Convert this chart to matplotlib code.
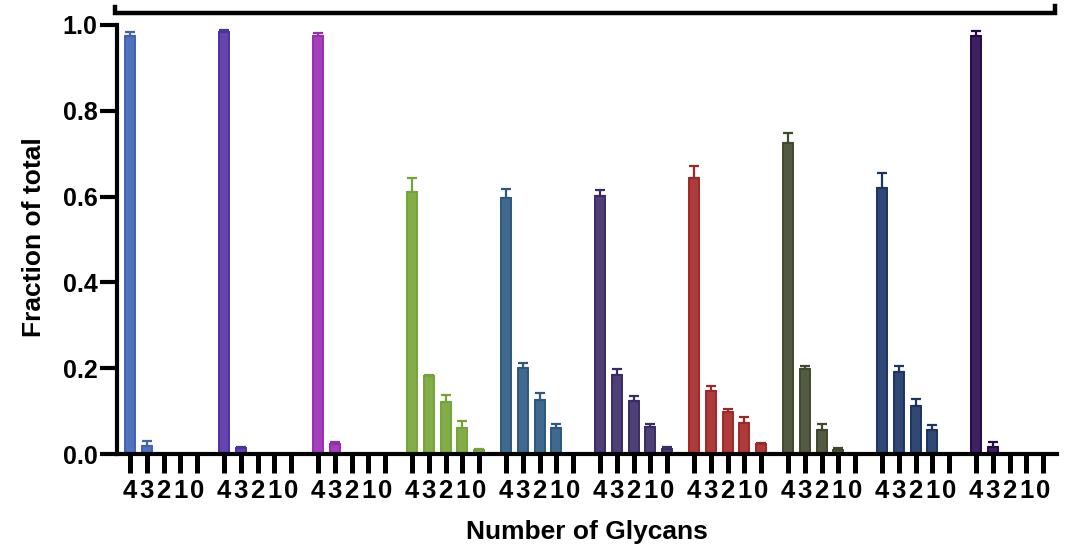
import numpy as np
import matplotlib
matplotlib.use("Agg")
import matplotlib.pyplot as plt
from matplotlib.lines import Line2D
from matplotlib.colors import to_rgb

plt.rcParams["font.family"] = ["Liberation Sans", "DejaVu Sans"]
plt.rcParams["font.weight"] = "bold"

# ------------------------------------------------------------------ data
# each group: fraction of total with 4,3,2,1,0 glycans (left -> right)
GLYCANS = ["4", "3", "2", "1", "0"]

VALUES = [
    [0.974, 0.019, 0.0, 0.0, 0.0],
    [0.983, 0.013, 0.0, 0.0, 0.0],
    [0.975, 0.023, 0.0, 0.0, 0.0],
    [0.611, 0.182, 0.122, 0.061, 0.010],
    [0.596, 0.200, 0.127, 0.060, 0.002],
    [0.602, 0.183, 0.124, 0.064, 0.012],
    [0.644, 0.147, 0.099, 0.073, 0.023],
    [0.724, 0.197, 0.057, 0.009, 0.0],
    [0.621, 0.192, 0.112, 0.057, 0.002],
    [0.975, 0.017, 0.002, 0.0, 0.0],
]

ERRORS = [
    [0.010, 0.011, 0.0, 0.0, 0.0],
    [0.005, 0.004, 0.0, 0.0, 0.0],
    [0.007, 0.004, 0.0, 0.0, 0.0],
    [0.032, 0.003, 0.016, 0.016, 0.002],
    [0.021, 0.012, 0.016, 0.009, 0.0],
    [0.013, 0.015, 0.011, 0.007, 0.005],
    [0.027, 0.011, 0.007, 0.013, 0.002],
    [0.024, 0.009, 0.013, 0.006, 0.0],
    [0.035, 0.012, 0.016, 0.011, 0.0],
    [0.010, 0.010, 0.0, 0.0, 0.0],
]

COLORS = ["#4062b4", "#5030a4", "#9a2cb2", "#74a434", "#2c5880",
          "#3a2a68", "#a32626", "#3f492c", "#1a3464", "#28084f"]

GROUP_PITCH = 5.6   # tick slots between group starts
BAR_W = 0.6


def lighter(c, amt=0.1):
    r, g, b = to_rgb(c)
    return (r + (1 - r) * amt, g + (1 - g) * amt, b + (1 - b) * amt)


def main():
    fig = plt.figure(figsize=(10.71, 5.49), dpi=100)
    ax = fig.add_axes([117 / 1071, 1 - 454 / 549, 940 / 1071, 429 / 549])

    ticks, labels = [], []
    for g, (vals, errs, col) in enumerate(zip(VALUES, ERRORS, COLORS)):
        x = g * GROUP_PITCH + np.arange(len(vals))
        vals = np.array(vals)
        errs = np.array(errs)
        ax.bar(x, vals, width=BAR_W, color=lighter(col), edgecolor=col,
               linewidth=1.4, zorder=2)
        m = errs > 0
        ax.errorbar(x[m], vals[m], yerr=[np.zeros(m.sum()), errs[m]],
                    fmt="none", ecolor=col, elinewidth=1.6, capsize=3.5,
                    capthick=1.6, zorder=3)
        ticks += list(x)
        labels += GLYCANS

    ax.set_xlim(-0.77, 9 * GROUP_PITCH + 4 + 0.82)
    ax.set_ylim(0, 1.0)
    ax.set_xticks(ticks)
    ax.set_xticklabels(labels)
    ax.set_yticks([0, 0.2, 0.4, 0.6, 0.8, 1.0])
    ax.set_yticklabels(["0.0", "0.2", "0.4", "0.6", "0.8", "1.0"])

    for s in ("top", "right"):
        ax.spines[s].set_visible(False)
    for s in ("left", "bottom"):
        ax.spines[s].set_linewidth(3.0)
        ax.spines[s].set_capstyle("projecting")
    ax.tick_params(axis="x", length=14, width=3.6, pad=4, labelsize=18.5)
    ax.tick_params(axis="y", length=12, width=3.0, pad=2, labelsize=18)
    for t in ax.get_xticklabels() + ax.get_yticklabels():
        t.set_fontweight("bold")

    fig.text(34 / 1071, 1 - 237 / 549, "Fraction of total", rotation=90,
             ha="center", va="center", fontsize=19, fontweight="bold")
    fig.text(587 / 1071, 1 - 532 / 549, "Number of Glycans",
             ha="center", va="center", fontsize=19, fontweight="bold")

    # bottom edge of the (cropped) panel above
    W, H = 1071, 549
    xs = [115 / W, 115 / W, 1055 / W, 1055 / W]
    ys = [1 - 7 / H, 1 - 13 / H, 1 - 13 / H, 1 - 6 / H]
    fig.add_artist(Line2D(xs, ys, color="black", lw=3.2,
                          solid_joinstyle="miter", transform=fig.transFigure))

    fig.savefig("out.png", dpi=100)


if __name__ == "__main__":
    main()
